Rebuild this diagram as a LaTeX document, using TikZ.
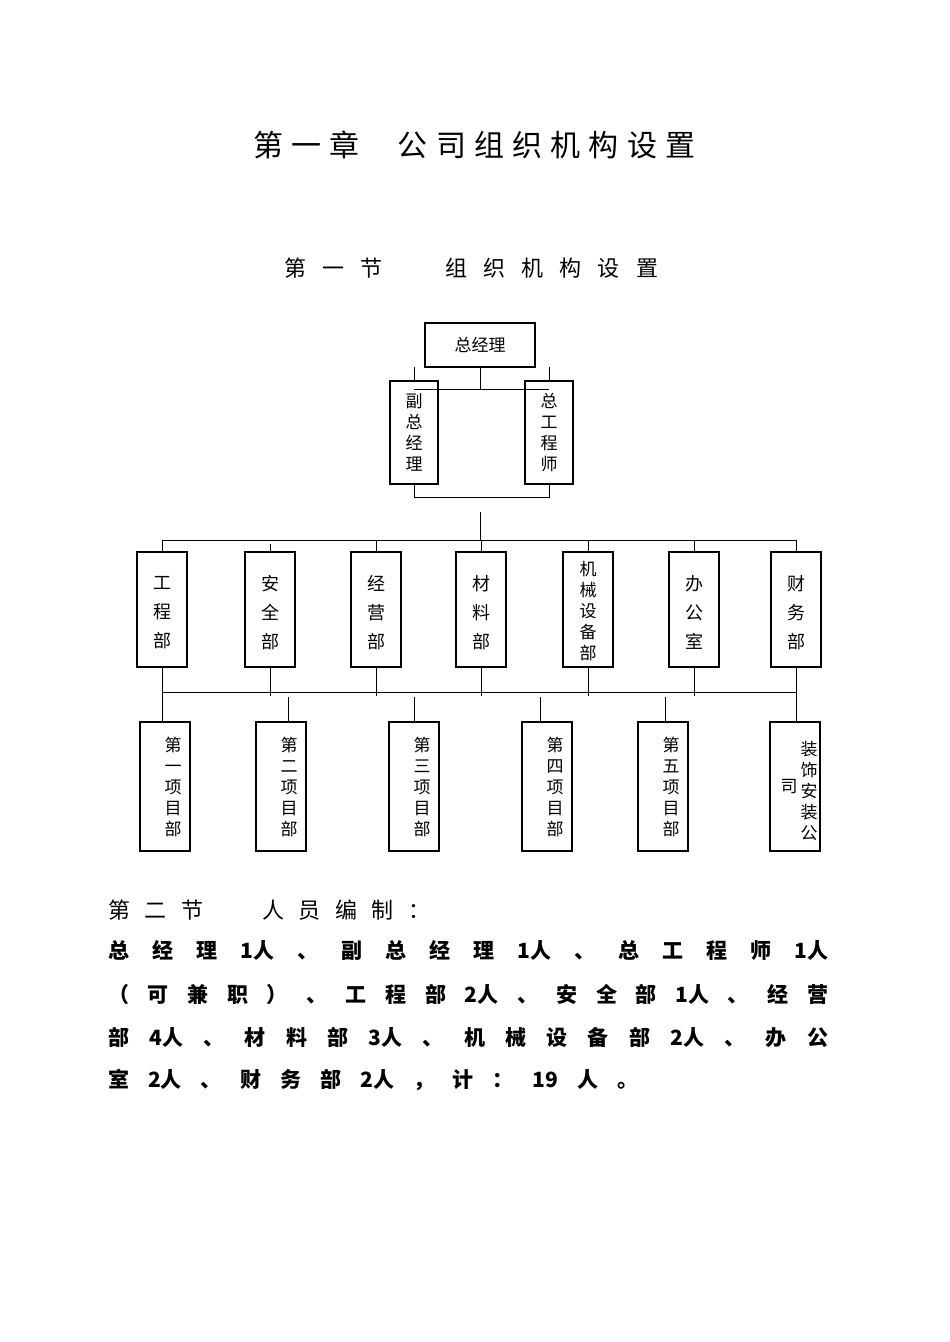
\documentclass[tikz,border=0pt]{standalone}
\usepackage{fontspec}
\setmainfont{Noto Sans CJK SC}
\begin{document}
\begin{tikzpicture}[x=1pt,y=-1pt,
  box/.style={draw,line width=1.2pt,inner sep=0pt},
  vt/.style={align=center,font=\fontsize{17}{21}\selectfont,inner sep=0pt},
  dt/.style={align=center,font=\fontsize{18}{29}\selectfont,inner sep=0pt},
  ln/.style={line width=1pt}]
\useasboundingbox (0,0) rectangle (950,1342);
% headings
\node[anchor=west,inner sep=0pt,font=\fontsize{30}{30}\selectfont] (t1) at (253,145)
  {\makebox[442pt][s]{第\hfill 一\hfill 章\hfill \hbox to 22pt{}\hfill 公\hfill 司\hfill 组\hfill 织\hfill 机\hfill 构\hfill 设\hfill 置}};
\node[anchor=west,inner sep=0pt,font=\fontsize{22}{22}\selectfont] (t2) at (284,268)
  {\makebox[374pt][s]{第\hfill 一\hfill 节\hfill \hbox to 30pt{}\hfill 组\hfill 织\hfill 机\hfill 构\hfill 设\hfill 置}};
% top
\node[box,minimum width=110pt,minimum height=44pt,font=\fontsize{17}{17}\selectfont] (zjl) at (480,345) {总经理};
\node[box,minimum width=48pt,minimum height=103pt] (fz) at (414,432.5) {};
\node[vt] at (fz.center) {副\\总\\经\\理};
\node[box,minimum width=48pt,minimum height=103pt] (zg) at (549,432.5) {};
\node[vt] at (zg.center) {总\\工\\程\\师};
\coordinate (hL) at (414,389); \coordinate (hR) at (549,389);
\draw[ln] (hL) -- (hR);
\draw[ln] (zjl.south) -- (480,390);
\draw[ln] (414,367) -- (fz.north); \draw[ln] (549,367) -- (zg.north);
\coordinate (bL) at (414,497); \coordinate (bR) at (549,497);
\draw[ln] (fz.south) -- (bL) -- (bR) -- (zg.south);
\coordinate (mid) at (480,512);
% departments
\foreach \n/\x/\t in {d1/162/{工\\程\\部},d2/270/{安\\全\\部},d3/376/{经\\营\\部},d4/481/{材\\料\\部},d6/694/{办\\公\\室},d7/796/{财\\务\\部}}{
  \node[box,minimum width=50pt,minimum height=115pt] (\n) at (\x,609.5) {};
  \node[dt] at ([yshift=-3pt]\n.center) {\t};
}
\node[box,minimum width=50pt,minimum height=115pt] (d5) at (588,609.5) {};
\node[vt,font=\fontsize{17}{21}\selectfont] at ([yshift=-2pt]d5.center) {机\\械\\设\\备\\部};
\draw[ln] (mid) -- (480,540);
\draw[ln] (162,540) -- (796,540);
\foreach \n in {d1,d3,d4,d5,d6,d7}{ \draw[ln] (\n.north) -- (\n.north |- 0,540); }
\draw[ln] (d2.north) -- ++(0,-7);
\draw[ln] (162,692) -- (796,692);
\foreach \n in {d2,d3,d4,d5,d6,d7}{ \draw[ln] (\n.south) -- (\n.south |- 0,696); }
% projects
\foreach \n/\x/\t in {p1/165/{第\\一\\项\\目\\部},p2/281/{第\\二\\项\\目\\部},p3/414/{第\\三\\项\\目\\部},p4/547/{第\\四\\项\\目\\部},p5/663/{第\\五\\项\\目\\部}}{
  \node[box,minimum width=50pt,minimum height=129pt] (\n) at (\x,786.5) {};
  \node[vt] at ([xshift=8pt]\n.center) {\t};
}
\node[box,minimum width=50pt,minimum height=129pt] (p6) at (795,786.5) {};
\node[vt] at ([xshift=14pt,yshift=-4pt]p6.center) {装\\饰\\安\\装\\公};
\node[vt] at ([xshift=-6pt,yshift=0pt]p6.center) {司};
\draw[ln] (d1.south) -- (d1.south |- p1.north);
\draw[ln] (p2.north -| 288,0) -- (288,697);
\draw[ln] (p3.north) -- (414,697);
\draw[ln] (p4.north -| 540,0) -- (540,697);
\draw[ln] (p5.north -| 665,0) -- (665,697);
\draw[ln] (d7.south) -- (d7.south |- p6.north);
% staffing text
\node[anchor=west,inner sep=0pt,font=\fontsize{22}{22}\selectfont] (s2) at (108,910)
  {\makebox[322pt][s]{第\hfill 二\hfill 节\hfill \hbox to 30pt{}\hfill 人\hfill 员\hfill 编\hfill 制\hfill ：}};
\begin{scope}[every node/.style={anchor=west,inner sep=0pt,font=\fontsize{21}{21}\selectfont\bfseries}]
\node (l1) at (108,950) {\makebox[720pt][s]{总\hfill 经\hfill 理\hfill 1人\hfill 、\hfill 副\hfill 总\hfill 经\hfill 理\hfill 1人\hfill 、\hfill 总\hfill 工\hfill 程\hfill 师\hfill 1人}};
\node (l2) at (108,994) {\makebox[720pt][s]{（\hfill 可\hfill 兼\hfill 职\hfill ）\hfill 、\hfill 工\hfill 程\hfill 部\hfill 2人\hfill 、\hfill 安\hfill 全\hfill 部\hfill 1人\hfill 、\hfill 经\hfill 营}};
\node (l3) at (108,1037) {\makebox[720pt][s]{部\hfill 4人\hfill 、\hfill 材\hfill 料\hfill 部\hfill 3人\hfill 、\hfill 机\hfill 械\hfill 设\hfill 备\hfill 部\hfill 2人\hfill 、\hfill 办\hfill 公}};
\node (l4) at (108,1080) {\makebox[530pt][s]{室\hfill 2人\hfill 、\hfill 财\hfill 务\hfill 部\hfill 2人\hfill ，\hfill 计\hfill ：\hfill 19\hfill 人\hfill 。}};
\end{scope}
\end{tikzpicture}
\end{document}
